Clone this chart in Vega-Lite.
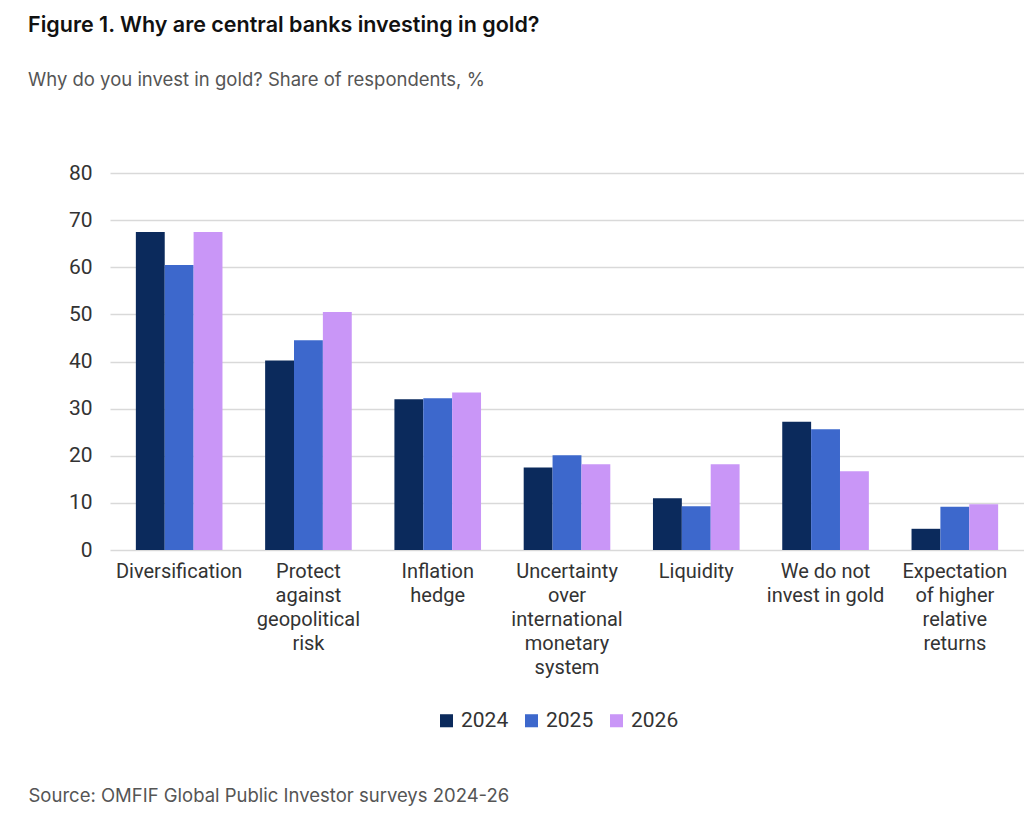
{
  "$schema": "https://vega.github.io/schema/vega-lite/v6.json",
  "autosize": {"type": "none"},
  "padding": {"left": 110, "top": 173, "right": 0, "bottom": 267},
  "width": 914,
  "height": 377,
  "background": "white",
  "title": {
    "text": "Figure 1. Why are central banks investing in gold?",
    "subtitle": "Why do you invest in gold? Share of respondents, %",
    "anchor": "start",
    "frame": "group",
    "dx": -82,
    "offset": 73,
    "font": "Inter",
    "fontSize": 21.5,
    "fontWeight": 600,
    "color": "#111111",
    "subtitleFont": "Inter",
    "subtitleFontSize": 18.5,
    "subtitleColor": "#555555",
    "subtitlePadding": 34
  },
  "data": {
    "values": [
      {"reason": "Diversification", "year": "2024", "share": 67.5},
      {"reason": "Diversification", "year": "2025", "share": 60.5},
      {"reason": "Diversification", "year": "2026", "share": 67.5},
      {"reason": "Protect against geopolitical risk", "year": "2024", "share": 40.2},
      {"reason": "Protect against geopolitical risk", "year": "2025", "share": 44.5},
      {"reason": "Protect against geopolitical risk", "year": "2026", "share": 50.5},
      {"reason": "Inflation hedge", "year": "2024", "share": 32.0},
      {"reason": "Inflation hedge", "year": "2025", "share": 32.2},
      {"reason": "Inflation hedge", "year": "2026", "share": 33.4},
      {"reason": "Uncertainty over international monetary system", "year": "2024", "share": 17.5},
      {"reason": "Uncertainty over international monetary system", "year": "2025", "share": 20.1},
      {"reason": "Uncertainty over international monetary system", "year": "2026", "share": 18.2},
      {"reason": "Liquidity", "year": "2024", "share": 11.0},
      {"reason": "Liquidity", "year": "2025", "share": 9.3},
      {"reason": "Liquidity", "year": "2026", "share": 18.2},
      {"reason": "We do not invest in gold", "year": "2024", "share": 27.2},
      {"reason": "We do not invest in gold", "year": "2025", "share": 25.6},
      {"reason": "We do not invest in gold", "year": "2026", "share": 16.7},
      {"reason": "Expectation of higher relative returns", "year": "2024", "share": 4.5},
      {"reason": "Expectation of higher relative returns", "year": "2025", "share": 9.2},
      {"reason": "Expectation of higher relative returns", "year": "2026", "share": 9.7}
    ]
  },
  "mark": {"type": "bar"},
  "encoding": {
    "x": {
      "field": "reason",
      "type": "nominal",
      "sort": null,
      "scale": {"paddingInner": 0.33, "paddingOuter": 0.2},
      "axis": {
        "title": "Source: OMFIF Global Public Investor surveys 2024-26",
        "titleAnchor": "start",
        "titleAlign": "left",
        "titleBaseline": "middle",
        "titleX": -82,
        "titleY": 245,
        "titleFont": "Inter",
        "titleFontSize": 18.5,
        "titleFontWeight": "normal",
        "titleColor": "#555555",
        "labelAngle": 0,
        "labelFont": "Roboto",
        "labelFontSize": 20,
        "labelColor": "#333333",
        "labelLineHeight": 24,
        "labelPadding": 11,
        "labelBaseline": "top",
        "ticks": false,
        "domain": false,
        "labelExpr": "datum.label == 'Protect against geopolitical risk' ? ['Protect', 'against', 'geopolitical', 'risk'] : datum.label == 'Inflation hedge' ? ['Inflation', 'hedge'] : datum.label == 'Uncertainty over international monetary system' ? ['Uncertainty', 'over', 'international', 'monetary', 'system'] : datum.label == 'We do not invest in gold' ? ['We do not', 'invest in gold'] : datum.label == 'Expectation of higher relative returns' ? ['Expectation', 'of higher', 'relative', 'returns'] : datum.label"
      }
    },
    "xOffset": {"field": "year", "type": "nominal", "scale": {"paddingInner": 0, "paddingOuter": 0}},
    "y": {
      "field": "share",
      "type": "quantitative",
      "scale": {"domain": [0, 80]},
      "axis": {
        "title": null,
        "values": [0, 10, 20, 30, 40, 50, 60, 70, 80],
        "labelFont": "Roboto",
        "labelFontSize": 21,
        "labelColor": "#333333",
        "labelPadding": 18,
        "ticks": false,
        "domain": false,
        "gridColor": "#d9d9d9",
        "gridWidth": 1.5
      }
    },
    "color": {
      "field": "year",
      "type": "nominal",
      "scale": {"domain": ["2024", "2025", "2026"], "range": ["#0b2a5c", "#3d68cc", "#c996f7"]},
      "legend": {
        "title": null,
        "orient": "none",
        "legendX": 326,
        "legendY": 537,
        "direction": "horizontal",
        "symbolType": "square",
        "symbolSize": 170,
        "symbolStrokeWidth": 0,
        "labelFont": "Roboto",
        "labelFontSize": 21,
        "labelColor": "#333333",
        "labelOffset": 4,
        "columnPadding": 12
      }
    }
  },
  "config": {"view": {"stroke": null}}
}
